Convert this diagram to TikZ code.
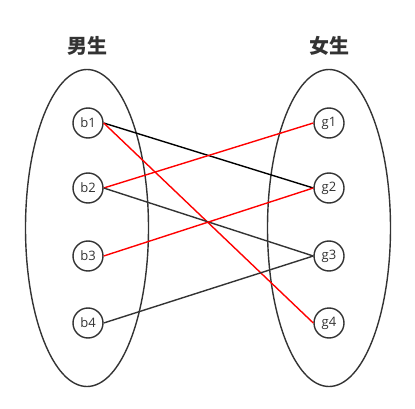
\documentclass[tikz,border=0pt]{standalone}
\usepackage{fontspec}
\setmainfont{Open Sans}
\newfontfamily\cjkfont{Noto Sans CJK SC}
\usepackage{tikz}
\usetikzlibrary{shapes.geometric}
\definecolor{linegray}{RGB}{51,51,51}

\begin{document}
\begin{tikzpicture}[x=1pt,y=-1pt,
          person/.style={circle,draw=linegray,line width=1.4pt,minimum size=30pt,
            inner sep=0pt,font=\fontsize{13}{15}\selectfont,text=linegray,fill=white},
          group/.style={ellipse,draw=linegray,line width=1.4pt,minimum width=123pt,
            minimum height=317pt},
          title/.style={font=\cjkfont\bfseries\fontsize{20}{24}\selectfont,text=linegray},
          edge/.style={line width=1.4pt,linegray},
          match/.style={line width=1.4pt,red}]
          \useasboundingbox (0,0) rectangle (415,409);
          \node[group] (boys) at (87,228) {};
          \node[group] (girls) at (329,228) {};
          \node[title] (tb) at (87,46) {男生};
          \node[title] (tg) at (329,46) {女生};
          \node[person] (b1) at (88,123) {b1};
          \node[person] (b2) at (88,188) {b2};
          \node[person] (b3) at (88,256) {b3};
          \node[person] (b4) at (88,323) {b4};
          \node[person] (g1) at (329,123) {g1};
          \node[person] (g2) at (329,188) {g2};
          \node[person] (g3) at (329,256) {g3};
          \node[person] (g4) at (329,323) {g4};
          \draw[edge,black] (b1.east) -- (g2.west);
          \draw[match] (b1.east) -- (g4.west);
          \draw[match] (b2.east) -- (g1.west);
          \draw[edge] (b2.east) -- (g3.west);
          \draw[match] (b3.east) -- (g2.west);
          \draw[edge] (b4.east) -- (g3.west);
        \end{tikzpicture}
\end{document}
